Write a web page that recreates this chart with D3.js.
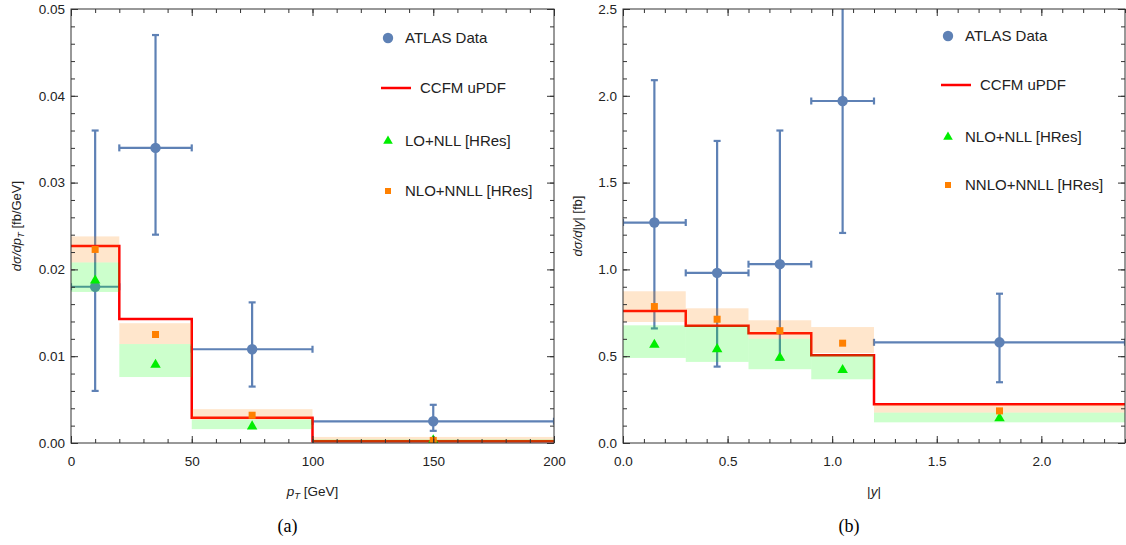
<!DOCTYPE html>
<html>
<head>
<meta charset="utf-8">
<script src="https://cdn.jsdelivr.net/npm/d3@7"></script>
<style>
  body { margin: 0; background: #fff; }
  svg { font-family: "Liberation Sans", Arial, sans-serif; }
  .tick text { font-size: 13.5px; fill: #222; }
  .tick line { stroke: #333; }
  .domain { display: none; }
  .leg { font-size: 15px; fill: #222; }
  .cap { font-family: "Liberation Serif", serif; font-size: 18px; fill: #000; }
</style>
</head>
<body>
<div id="chart"></div>
<script>
// ---- panel (a): pT ----
const ptEdges = [0, 20, 50, 100, 200];
const ptData = [0.0180, 0.0340, 0.0108, 0.0025];
const ptDataLo = [0.0060, 0.0240, 0.0065, 0.0014];
const ptDataHi = [0.0360, 0.0470, 0.0162, 0.0044];
const ptCCFM = [0.0227, 0.0143, 0.0029, 0.0002];
const ptLO = [0.0186, 0.0089, 0.0018, 0.0002];
const ptLOLo = [0.0174, 0.0076, 0.0016, 0.0001];
const ptLOHi = [0.0208, 0.0114, 0.0027, 0.0004];
const ptNLO = [0.0223, 0.0125, 0.0032, 0.0003];
const ptNLOLo = [0.0208, 0.0114, 0.0027, 0.0003];
const ptNLOHi = [0.0238, 0.0138, 0.0039, 0.0007];
const ptXTicks = [0, 50, 100, 150, 200];
const ptYTicks = [0, 0.01, 0.02, 0.03, 0.04, 0.05];

// ---- panel (b): |y| ----
const yEdges = [0, 0.3, 0.6, 0.9, 1.2, 2.4];
const yData = [1.27, 0.98, 1.03, 1.97, 0.58];
const yDataLo = [0.66, 0.44, 0.48, 1.21, 0.35];
const yDataHi = [2.09, 1.74, 1.80, 2.75, 0.86];
const yCCFM = [0.76, 0.675, 0.632, 0.505, 0.223];
const yLO = [0.56, 0.535, 0.485, 0.415, 0.137];
const yLOLo = [0.49, 0.467, 0.425, 0.367, 0.119];
const yLOHi = [0.678, 0.676, 0.60, 0.51, 0.175];
const yNLO = [0.786, 0.713, 0.647, 0.575, 0.185];
const yNLOLo = [0.697, 0.676, 0.60, 0.518, 0.175];
const yNLOHi = [0.874, 0.776, 0.707, 0.668, 0.223];
const yXTicks = [0, 0.5, 1.0, 1.5, 2.0];
const yYTicks = [0, 0.5, 1.0, 1.5, 2.0, 2.5];

const BLUE = "#5e81b5";

const svg = d3.select("#chart").append("svg")
    .attr("width", 1126)
    .attr("height", 545);

function drawPanel(p) {
    var x = d3.scaleLinear().domain(p.xDom).range([p.x0, p.x1]);
    var y = d3.scaleLinear().domain(p.yDom).range([p.y0, p.y1]);
    var g = svg.append("g");

    g.append("clipPath").attr("id", p.id)
        .append("rect")
        .attr("x", p.x0).attr("y", p.y1)
        .attr("width", p.x1 - p.x0).attr("height", p.y0 - p.y1);

    var plot = g.append("g").attr("clip-path", "url(#" + p.id + ")");

    var bins = p.data.map((v, i) => ({
        a: p.edges[i], b: p.edges[i + 1], c: (p.edges[i] + p.edges[i + 1]) / 2,
        v: v, lo: p.dataLo[i], hi: p.dataHi[i],
        ccfm: p.ccfm[i],
        lo1: p.lo[i], lo1Lo: p.loLo[i], lo1Hi: p.loHi[i],
        nlo: p.nlo[i], nloLo: p.nloLo[i], nloHi: p.nloHi[i]
    }));

    // data error bars
    var cap = 3.5;
    bins.forEach(d => {
        var eb = plot.append("g").attr("stroke", BLUE).attr("stroke-width", 2.2).attr("fill", "none");
        eb.append("line").attr("x1", x(d.a)).attr("x2", x(d.b)).attr("y1", y(d.v)).attr("y2", y(d.v));
        eb.append("line").attr("x1", x(d.a)).attr("x2", x(d.a)).attr("y1", y(d.v) - cap).attr("y2", y(d.v) + cap);
        eb.append("line").attr("x1", x(d.b)).attr("x2", x(d.b)).attr("y1", y(d.v) - cap).attr("y2", y(d.v) + cap);
        eb.append("line").attr("x1", x(d.c)).attr("x2", x(d.c)).attr("y1", y(d.lo)).attr("y2", y(d.hi));
        eb.append("line").attr("x1", x(d.c) - cap).attr("x2", x(d.c) + cap).attr("y1", y(d.lo)).attr("y2", y(d.lo));
        eb.append("line").attr("x1", x(d.c) - cap).attr("x2", x(d.c) + cap).attr("y1", y(d.hi)).attr("y2", y(d.hi));
    });
    plot.selectAll(".dot").data(bins).enter().append("circle")
        .attr("cx", d => x(d.c)).attr("cy", d => y(d.v)).attr("r", 5.2)
        .attr("fill", BLUE);

    // CCFM step line
    var pts = [];
    bins.forEach(d => { pts.push([d.a, d.ccfm]); pts.push([d.b, d.ccfm]); });
    plot.append("path")
        .attr("d", d3.line().x(d => x(d[0])).y(d => y(d[1]))(pts))
        .attr("fill", "none").attr("stroke", "#ff0000").attr("stroke-width", 2.5);

    // HRes bands
    plot.selectAll(".bandN").data(bins).enter().append("rect")
        .attr("x", d => x(d.a)).attr("width", d => x(d.b) - x(d.a))
        .attr("y", d => y(d.nloHi)).attr("height", d => y(d.nloLo) - y(d.nloHi))
        .attr("fill", "rgb(255,128,0)").attr("fill-opacity", 0.2);
    plot.selectAll(".bandL").data(bins).enter().append("rect")
        .attr("x", d => x(d.a)).attr("width", d => x(d.b) - x(d.a))
        .attr("y", d => y(d.lo1Hi)).attr("height", d => y(d.lo1Lo) - y(d.lo1Hi))
        .attr("fill", "rgb(0,255,0)").attr("fill-opacity", 0.2);

    var tri = d3.symbol().type(d3.symbolTriangle).size(48);
    plot.selectAll(".tri").data(bins).enter().append("path")
        .attr("d", tri)
        .attr("transform", d => "translate(" + x(d.c) + "," + (y(d.lo1) - 1) + ")")
        .attr("fill", "#00ee00");
    plot.selectAll(".sq").data(bins).enter().append("rect")
        .attr("x", d => x(d.c) - 3.5).attr("y", d => y(d.nlo) - 3.5)
        .attr("width", 7).attr("height", 7)
        .attr("fill", "#ff8000");

    // axes (inward ticks on all sides)
    var fmtX = p.fmtX, fmtY = p.fmtY;
    g.append("g").attr("transform", "translate(0," + p.y0 + ")")
        .call(d3.axisBottom(x).tickValues(p.xMinor).tickSize(-4).tickFormat(""));
    g.append("g").attr("transform", "translate(0," + p.y0 + ")")
        .call(d3.axisBottom(x).tickValues(p.xTicks).tickSize(-7).tickPadding(13).tickFormat(fmtX));
    g.append("g").attr("transform", "translate(0," + p.y1 + ")")
        .call(d3.axisTop(x).tickValues(p.xMinor).tickSize(-4).tickFormat(""));
    g.append("g").attr("transform", "translate(0," + p.y1 + ")")
        .call(d3.axisTop(x).tickValues(p.xTicks).tickSize(-7).tickFormat(""));
    g.append("g").attr("transform", "translate(" + p.x0 + ",0)")
        .call(d3.axisLeft(y).tickValues(p.yMinor).tickSize(-4).tickFormat(""));
    g.append("g").attr("transform", "translate(" + p.x0 + ",0)")
        .call(d3.axisLeft(y).tickValues(p.yTicks).tickSize(-7).tickPadding(6).tickFormat(fmtY));
    g.append("g").attr("transform", "translate(" + p.x1 + ",0)")
        .call(d3.axisRight(y).tickValues(p.yMinor).tickSize(-4).tickFormat(""));
    g.append("g").attr("transform", "translate(" + p.x1 + ",0)")
        .call(d3.axisRight(y).tickValues(p.yTicks).tickSize(-7).tickFormat(""));

    g.append("rect")
        .attr("x", p.x0).attr("y", p.y1)
        .attr("width", p.x1 - p.x0).attr("height", p.y0 - p.y1)
        .attr("fill", "none").attr("stroke", "#333").attr("stroke-width", 1);

    // axis labels
    var xl = g.append("text").attr("x", (p.x0 + p.x1) / 2).attr("y", 496)
        .attr("text-anchor", "middle").attr("font-size", 13.5).attr("fill", "#222");
    p.xLabel(xl);
    var yl = g.append("text")
        .attr("transform", "translate(" + p.yLabelX + ",226) rotate(-90)")
        .attr("text-anchor", "middle").attr("font-size", 13).attr("fill", "#222");
    p.yLabel(yl);

    g.append("text").attr("class", "cap")
        .attr("x", (p.x0 + p.x1) / 2 - 25).attr("y", 532)
        .attr("text-anchor", "middle").text(p.caption);

    // legend
    var lx = p.legX, ly = p.legY;
    g.append("circle").attr("cx", lx).attr("cy", ly[0]).attr("r", 5.2).attr("fill", BLUE);
    g.append("text").attr("class", "leg").attr("x", lx + 17).attr("y", ly[0] + 5).text("ATLAS Data");
    g.append("line").attr("x1", lx - 7).attr("x2", lx + 23).attr("y1", ly[1]).attr("y2", ly[1])
        .attr("stroke", "#ff0000").attr("stroke-width", 2.5);
    g.append("text").attr("class", "leg").attr("x", lx + 32).attr("y", ly[1] + 5).text("CCFM uPDF");
    g.append("path").attr("d", d3.symbol().type(d3.symbolTriangle).size(40))
        .attr("transform", "translate(" + lx + "," + ly[2] + ")").attr("fill", "#00ee00");
    g.append("text").attr("class", "leg").attr("x", lx + 17).attr("y", ly[2] + 5).text(p.legLO);
    g.append("rect").attr("x", lx - 3).attr("y", ly[3] - 3).attr("width", 6).attr("height", 6).attr("fill", "#ff8000");
    g.append("text").attr("class", "leg").attr("x", lx + 17).attr("y", ly[3] + 5).text(p.legNLO);
}

drawPanel({
    id: "clipA", x0: 71, x1: 554, y0: 443, y1: 9,
    xDom: [0, 200], yDom: [0, 0.05],
    edges: ptEdges, data: ptData, dataLo: ptDataLo, dataHi: ptDataHi,
    ccfm: ptCCFM, lo: ptLO, loLo: ptLOLo, loHi: ptLOHi,
    nlo: ptNLO, nloLo: ptNLOLo, nloHi: ptNLOHi,
    xTicks: ptXTicks, yTicks: ptYTicks,
    xMinor: d3.range(0, 201, 10), yMinor: d3.range(0, 0.0501, 0.002),
    fmtX: d3.format("d"), fmtY: d3.format(".2f"),
    xLabel: t => {
        t.append("tspan").attr("font-style", "italic").text("p");
        t.append("tspan").attr("font-style", "italic").attr("font-size", 9.5).attr("dy", 3).text("T");
        t.append("tspan").attr("dy", -3).text(" [GeV]");
    },
    yLabel: t => {
        t.append("tspan").attr("font-style", "italic").text("dσ/dp");
        t.append("tspan").attr("font-style", "italic").attr("font-size", 9.5).attr("dy", 3).text("T");
        t.append("tspan").attr("dy", -3).text("  [fb/GeV]");
    },
    yLabelX: 21, caption: "(a)",
    legX: 388, legY: [38, 88, 141, 191],
    legLO: "LO+NLL [HRes]", legNLO: "NLO+NNLL [HRes]"
});

drawPanel({
    id: "clipB", x0: 623, x1: 1125, y0: 443, y1: 9,
    xDom: [0, 2.4], yDom: [0, 2.5],
    edges: yEdges, data: yData, dataLo: yDataLo, dataHi: yDataHi,
    ccfm: yCCFM, lo: yLO, loLo: yLOLo, loHi: yLOHi,
    nlo: yNLO, nloLo: yNLOLo, nloHi: yNLOHi,
    xTicks: yXTicks, yTicks: yYTicks,
    xMinor: d3.range(0, 2.401, 0.1), yMinor: d3.range(0, 2.501, 0.1),
    fmtX: d3.format(".1f"), fmtY: d3.format(".1f"),
    xLabel: t => {
        t.append("tspan").text("|");
        t.append("tspan").attr("font-style", "italic").text("y");
        t.append("tspan").text("|");
    },
    yLabel: t => {
        t.append("tspan").attr("font-style", "italic").text("dσ/d");
        t.append("tspan").text("|");
        t.append("tspan").attr("font-style", "italic").text("y");
        t.append("tspan").text("| [fb]");
    },
    yLabelX: 582, caption: "(b)",
    legX: 948, legY: [36, 85, 137, 185],
    legLO: "NLO+NLL [HRes]", legNLO: "NNLO+NNLL [HRes]"
});
</script>
</body>
</html>
